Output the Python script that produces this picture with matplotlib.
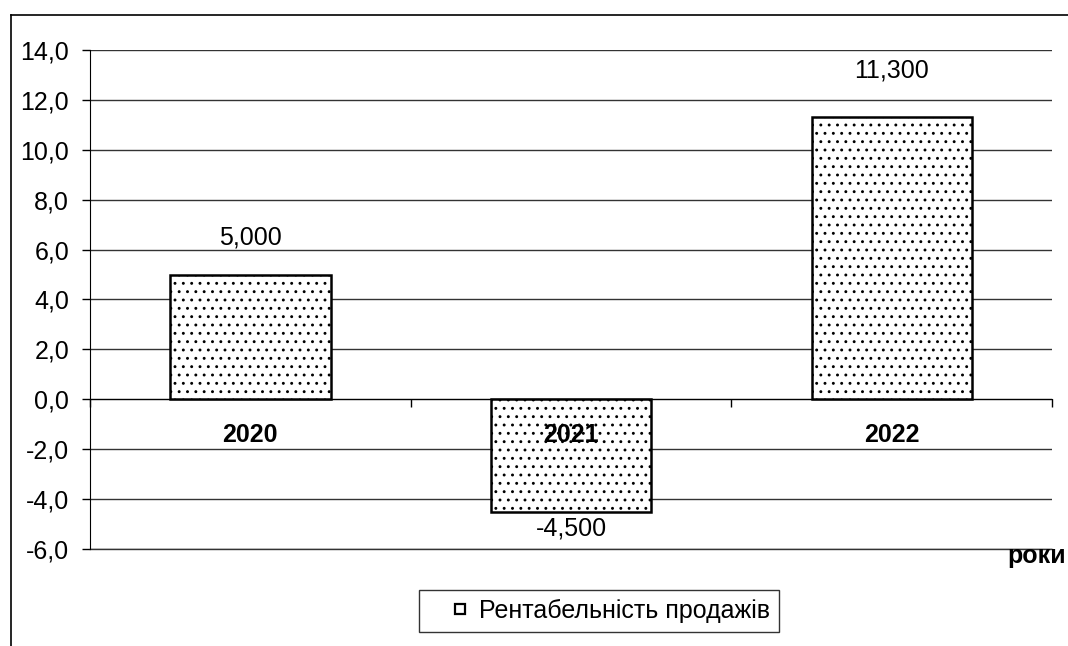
import matplotlib
matplotlib.use("Agg")
import matplotlib.pyplot as plt
from matplotlib.lines import Line2D

plt.rcParams['font.family'] = ['Liberation Sans', 'DejaVu Sans']
plt.rcParams['hatch.color'] = '#8c8c8c'
plt.rcParams['hatch.linewidth'] = 0.9

years = ['2020', '2021', '2022']
values = [5.0, -4.5, 11.3]
series_name = 'Рентабельність продажів'
y_ticks = [-6, -4, -2, 0, 2, 4, 6, 8, 10, 12, 14]

FS = 18

fig = plt.figure(figsize=(10.68, 6.46), dpi=100)
ax = fig.add_axes([90 / 1068, 97 / 646, 962 / 1068, 499 / 646])

x = list(range(len(years)))
bars = ax.bar(x, values, width=0.5, color='white', edgecolor='black',
              linewidth=1.8, hatch='..', zorder=3)

ax.set_xlim(-0.5, len(years) - 0.5)
ax.set_ylim(-6, 14)
ax.set_yticks(y_ticks)
ax.yaxis.set_major_formatter(plt.FuncFormatter(lambda v, p: ('%.1f' % v).replace('.', ',')))
ax.tick_params(axis='y', labelsize=FS, length=6, width=1, direction='out', pad=9)
ax.grid(axis='y', color='#333333', linewidth=1)
ax.set_axisbelow(True)
ax.axhline(-6, color='#333333', linewidth=1, clip_on=False, zorder=1)

# x axis sits at zero with ticks on category boundaries
ax.spines['bottom'].set_position(('data', 0))
ax.spines['top'].set_visible(False)
ax.spines['right'].set_visible(False)
ax.set_xticks([-0.5, 0.5, 1.5, 2.5])
ax.set_xticklabels([])
ax.tick_params(axis='x', length=6, width=1, direction='out')
for i, yr in enumerate(years):
    ax.annotate(yr, (i, 0), xytext=(0, -26), textcoords='offset points',
                ha='center', va='center', fontsize=FS, fontweight='bold', zorder=5)

# data labels
label_offsets = [27, -12, 34]
for i, v in enumerate(values):
    lab = ('%.3f' % v).replace('.', ',')
    ax.annotate(lab, (i, v), xytext=(0, label_offsets[i]),
                textcoords='offset points', ha='center', va='center', fontsize=FS)

fig.text(1066 / 1068, 1 - 556 / 646, 'роки', fontsize=FS,
         fontweight='bold', ha='right', va='center')

handle = Line2D([], [], marker='s', markersize=7, markerfacecolor='white',
                markeredgecolor='black', markeredgewidth=1.6, linestyle='None')
leg = fig.legend([handle], [series_name], loc='center', bbox_to_anchor=(599 / 1068, 1 - 611 / 646),
                 fontsize=FS, frameon=True, fancybox=False, edgecolor='black',
                 handlelength=2.6, handletextpad=-0.55,
                 borderpad=0.35, borderaxespad=0)
leg.get_frame().set_linewidth(1)

# outer chart frame
fig.add_artist(Line2D([11 / 1068, 1.0], [1 - 15 / 646, 1 - 15 / 646], color='black', linewidth=1.2))
fig.add_artist(Line2D([11 / 1068, 11 / 1068], [0, 1 - 15 / 646], color='black', linewidth=1.2))

fig.savefig('out.png', dpi=100)
